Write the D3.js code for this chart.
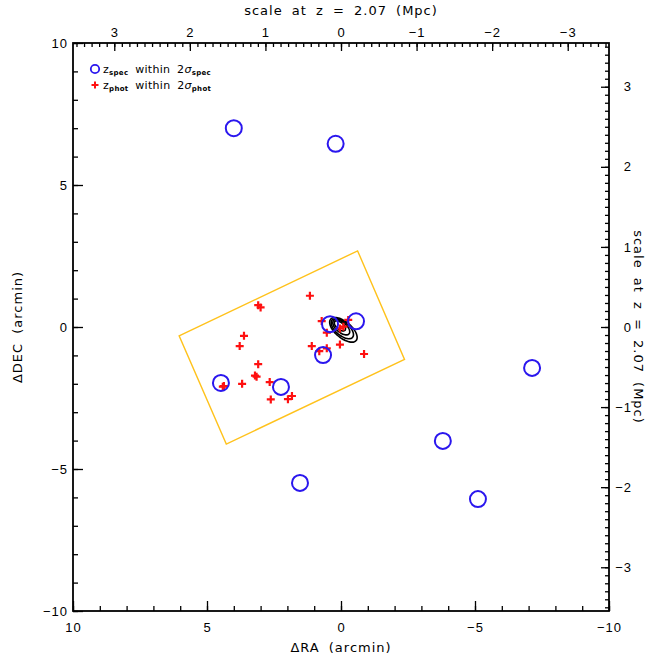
<!DOCTYPE html>
<html>
<head>
<meta charset="utf-8">
<script src="https://cdn.jsdelivr.net/npm/d3@7"></script>
<style>
  html, body { margin: 0; padding: 0; background: #fff; }
  svg { display: block; font-family: "DejaVu Sans", sans-serif; }
</style>
</head>
<body>
<svg id="chart" width="647" height="659"></svg>
<script>
// ── Data (arcmin offsets) ───────────────────────────────────────────────────
const specRA  = [4.0, 0.2, 0.41, -0.56, 0.67, 4.48, 2.24, -7.13, -3.8, 1.53, -5.11];
const specDEC = [7.0, 6.45, 0.1, 0.2, -0.99, -1.97, -2.11, -1.44, -4.01, -5.49, -6.06];

const photRA  = [1.16, 3.09, 3.0, 3.62, 3.78, 3.09, 3.21, 3.15, 3.69, 4.41, 4.37, 2.66, 2.62, 1.98, 1.83,
                 1.09, 0.81, 0.53, 0.04, -0.86, 0.72, 0.53, 0.04, -0.09, -0.27];
const photDEC = [1.10, 0.77, 0.69, -0.31, -0.67, -1.31, -1.71, -1.75, -2.0, -2.10, -2.08, -1.94, -2.55, -2.54, -2.43,
                 -0.67, -0.85, -0.75, -0.62, -0.95, 0.21, -0.2, -0.05, 0.01, 0.25];

// field footprint corners
const boxRA  = [6.04, -0.62, -2.37, 4.28];
const boxDEC = [-0.31, 2.68, -1.14, -4.12];

// density contours: centre, semi-axes (arcmin), tilt (deg)
const contRA    = [0.04, -0.01, -0.05, -0.09];
const contDEC   = [0.04, -0.01, -0.06, -0.10];
const contMajor = [0.25, 0.38, 0.5, 0.62];
const contMinor = [0.13, 0.19, 0.25, 0.3];
const contTilt  = [-40, -40, -40, -40];

const arcTicks = [10, 5, 0, -5, -10];
const mpcTicks = [3, 2, 1, 0, -1, -2, -3];
const ARCMIN_PER_MPC = 2.82;

// ── Layout ──────────────────────────────────────────────────────────────────
const svg = d3.select('#chart');
const L = 73, R = 609, T = 43, B = 611;
const FS = 13;
const BLUE = '#2a16ee', RED = '#ff1010', GOLD = '#ffc21c';

const x = d3.scaleLinear().domain([10, -10]).range([L, R]);
const y = d3.scaleLinear().domain([-10, 10]).range([B, T]);
const xm = d3.scaleLinear().domain([10 / ARCMIN_PER_MPC, -10 / ARCMIN_PER_MPC]).range([L, R]);
const ym = d3.scaleLinear().domain([-10 / ARCMIN_PER_MPC, 10 / ARCMIN_PER_MPC]).range([B, T]);

const minus = v => (v < 0 ? '\u2212' + Math.abs(v) : '' + v);

function drawAxis(axis, tx, ty, labels) {
  const g = svg.append('g').attr('transform', `translate(${tx},${ty})`).call(axis);
  g.select('.domain').remove();
  g.selectAll('line').attr('stroke', '#000').attr('stroke-width', 1.3);
  g.selectAll('text').attr('font-size', FS).attr('fill', '#000').attr('letter-spacing', 1);
  if (!labels) g.selectAll('text').remove();
  return g;
}

const minorArc = d3.range(-10, 10.01, 1);
const minorMpc = d3.range(-35, 36, 1).map(v => v / 10);

// bottom (arcmin)
drawAxis(d3.axisBottom(x).tickValues(minorArc).tickSize(-5), 0, B, false);
drawAxis(d3.axisBottom(x).tickValues(arcTicks).tickSize(-10).tickPadding(12).tickFormat(minus), 0, B, true);
// left (arcmin)
drawAxis(d3.axisLeft(y).tickValues(minorArc).tickSize(-5), L, 0, false);
drawAxis(d3.axisLeft(y).tickValues(arcTicks).tickSize(-10).tickPadding(5).tickFormat(minus), L, 0, true);
// top (Mpc)
drawAxis(d3.axisTop(xm).tickValues(minorMpc).tickSize(-4), 0, T, false);
drawAxis(d3.axisTop(xm).tickValues(mpcTicks).tickSize(-8).tickPadding(6).tickFormat(minus), 0, T, true);
// right (Mpc) – digits line up, so labels end at a common edge
drawAxis(d3.axisRight(ym).tickValues(minorMpc).tickSize(-4), R, 0, false);
drawAxis(d3.axisRight(ym).tickValues(mpcTicks).tickSize(-8).tickPadding(23).tickFormat(minus), R, 0, true)
  .selectAll('text').attr('text-anchor', 'end');

svg.append('rect').attr('x', L).attr('y', T).attr('width', R - L).attr('height', B - T)
  .attr('fill', 'none').attr('stroke', '#000').attr('stroke-width', 1.8);

// ── Axis titles ─────────────────────────────────────────────────────────────
function title(tr, txt) {
  return svg.append('text').attr('transform', tr).attr('text-anchor', 'middle')
    .attr('font-size', FS).attr('letter-spacing', 1).attr('word-spacing', 4).text(txt);
}
title(`translate(${(L + R) / 2},652)`, '\u0394RA (arcmin)');
title(`translate(22,${(T + B) / 2}) rotate(-90)`, '\u0394DEC (arcmin)');
title(`translate(${(L + R) / 2},15)`, 'scale at z = 2.07 (Mpc)');
title(`translate(634,${(T + B) / 2}) rotate(90)`, 'scale at z = 2.07 (Mpc)');

// ── Plot content ────────────────────────────────────────────────────────────
const plot = svg.append('g');

const box = boxRA.map((r, i) => [x(r), y(boxDEC[i])]);
plot.append('path').attr('d', d3.line()(box) + 'Z')
  .attr('fill', 'none').attr('stroke', GOLD).attr('stroke-width', 1.4);

// contours
const contours = contRA.map((r, i) => ({ ra: r, dec: contDEC[i], a: contMajor[i], b: contMinor[i], t: contTilt[i] }));
const ang = d3.range(0, 360, 6).map(a => a * Math.PI / 180);
plot.selectAll('path.cont').data(contours).join('path')
  .attr('class', 'cont')
  .attr('d', c => {
    const th = c.t * Math.PI / 180;
    const pxA = (x(0) - x(c.a)), pxB = (x(0) - x(c.b));
    return d3.line().curve(d3.curveCardinalClosed)(ang.map(a => {
      const u = pxA * Math.cos(a), v = pxB * Math.sin(a);
      return [x(c.ra) + u * Math.cos(th) - v * Math.sin(th), y(c.dec) - (u * Math.sin(th) + v * Math.cos(th))];
    }));
  })
  .attr('fill', 'none').attr('stroke', '#000').attr('stroke-width', 1.6);

const photData = photRA.map((r, i) => ({ ra: r, dec: photDEC[i] }));
plot.selectAll('path.phot').data(photData).join('path')
  .attr('class', 'phot')
  .attr('d', 'M-4,0H4M0,-4V4')
  .attr('transform', d => `translate(${x(d.ra)},${y(d.dec)})`)
  .attr('stroke', RED).attr('stroke-width', 2.2).attr('fill', 'none');

const specData = specRA.map((r, i) => ({ ra: r, dec: specDEC[i] }));
plot.selectAll('circle.spec').data(specData).join('circle')
  .attr('class', 'spec')
  .attr('cx', d => x(d.ra)).attr('cy', d => y(d.dec)).attr('r', 8)
  .attr('fill', 'none').attr('stroke', BLUE).attr('stroke-width', 2);

// ── Legend ──────────────────────────────────────────────────────────────────
const leg = svg.append('g').attr('font-size', 11);
leg.append('circle').attr('cx', 95).attr('cy', 69).attr('r', 4.2)
  .attr('fill', 'none').attr('stroke', BLUE).attr('stroke-width', 1.8);
leg.append('path').attr('d', 'M-3.5,0H3.5M0,-3.5V3.5').attr('transform', 'translate(95,85)')
  .attr('stroke', RED).attr('stroke-width', 2).attr('fill', 'none');

function legendLine(yy, sub) {
  const t = leg.append('text').attr('x', 103).attr('y', yy).attr('word-spacing', 3).attr('letter-spacing', 0.3);
  t.append('tspan').text('z');
  t.append('tspan').attr('font-size', 7).attr('font-weight', 'bold').attr('dy', 2).text(sub);
  t.append('tspan').attr('dy', -2).text(' within 2');
  t.append('tspan').attr('font-style', 'italic').text('\u03c3');
  t.append('tspan').attr('font-size', 7).attr('font-weight', 'bold').attr('dy', 2).text(sub);
}
legendLine(73, 'spec');
legendLine(89, 'phot');
</script>
</body>
</html>
